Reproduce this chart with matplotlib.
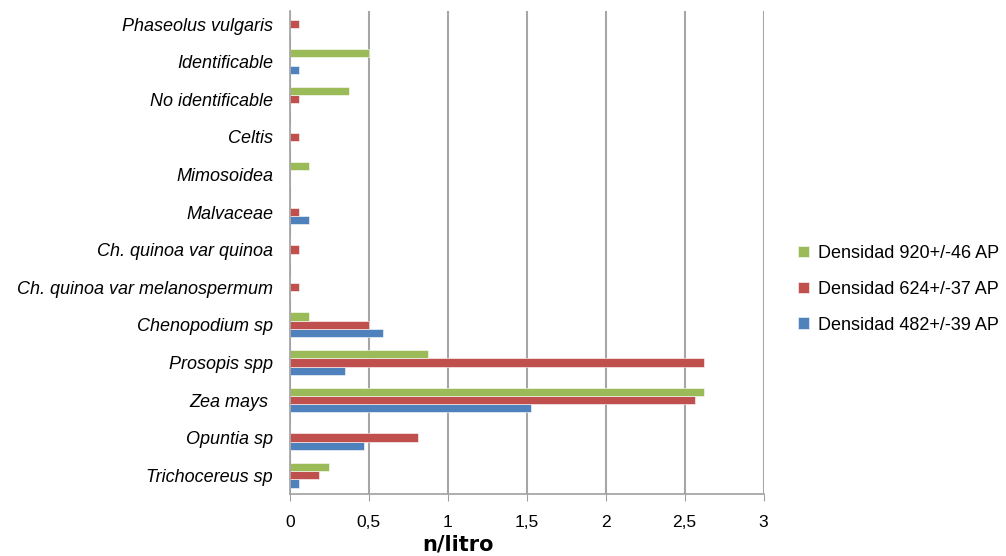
import numpy as np
import matplotlib.pyplot as plt
from matplotlib.ticker import FuncFormatter

# categories listed bottom to top
taxa = ['Trichocereus sp', 'Opuntia sp', 'Zea mays ', 'Prosopis spp', 'Chenopodium sp',
        'Ch. quinoa var melanospermum', 'Ch. quinoa var quinoa', 'Malvaceae',
        'Mimosoidea', 'Celtis', 'No identificable', 'Identificable', 'Phaseolus vulgaris']

d482 = [0.06, 0.47, 1.53, 0.35, 0.59, 0, 0, 0.12, 0, 0, 0, 0.06, 0]
d624 = [0.185, 0.81, 2.565, 2.625, 0.5, 0.06, 0.06, 0.06, 0, 0.06, 0.06, 0, 0.06]
d920 = [0.25, 0, 2.625, 0.875, 0.125, 0, 0, 0, 0.125, 0, 0.375, 0.5, 0]

series = [('Densidad 482+/-39 AP', d482, '#4F81BD'),
          ('Densidad 624+/-37 AP', d624, '#C0504D'),
          ('Densidad 920+/-46 AP', d920, '#9BBB59')]

plt.rcParams['font.family'] = ['Liberation Sans', 'DejaVu Sans']

fig = plt.figure(figsize=(10.06, 5.56), dpi=100)
ax = fig.add_axes([0.288, 0.1115, 0.471, 0.869])

y = np.arange(len(taxa))
h = 0.22
for i, (name, vals, col) in enumerate(series):
    ax.barh(y + (i - 1) * h, vals, height=h, color=col, label=name,
            edgecolor='white', linewidth=0.4)

ax.set_xlim(0, 3)
ax.set_ylim(-0.5, len(taxa) - 0.65)
ax.set_xticks(np.arange(0, 3.01, 0.5))
ax.xaxis.set_major_formatter(FuncFormatter(lambda v, p: ('%g' % v).replace('.', ',')))
ax.set_yticks(y)
ax.set_yticklabels(taxa, fontstyle='italic', fontsize=13)
ax.tick_params(axis='x', labelsize=12.5, length=5, color='#a0a0a0', pad=10)
ax.tick_params(axis='y', length=0, pad=12)

ax.grid(axis='x', color='#a6a6a6', linewidth=1.5)
ax.set_axisbelow(True)
for s in ['top', 'right']:
    ax.spines[s].set_visible(False)
for s in ['left', 'bottom']:
    ax.spines[s].set_color('#a0a0a0')
    ax.spines[s].set_linewidth(1.2)

handles, labels = ax.get_legend_handles_labels()
fig.legend(handles[::-1], labels[::-1], loc='center left', bbox_to_anchor=(0.777, 0.48),
           frameon=False, fontsize=13, handlelength=0.6, handleheight=0.6,
           handletextpad=0.5, labelspacing=1.05)

fig.text(0.455, 0.003, 'n/litro', fontsize=15, fontweight='bold',
         family=['DejaVu Sans'], ha='center', va='bottom')

fig.savefig('out.png', dpi=100)
